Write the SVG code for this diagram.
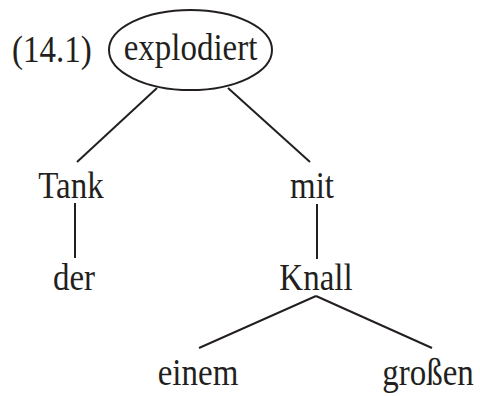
<svg xmlns="http://www.w3.org/2000/svg" width="480" height="396" viewBox="0 0 480 396">
<style>
text{font-family:"Liberation Serif","Times New Roman",serif;font-size:38px;fill:#231f20}
.e line{stroke:#231f20;stroke-width:2}
</style>
<rect width="480" height="396" fill="#fff"/>
<g class="e" id="connectors">
<line x1="157" y1="88" x2="77" y2="162"/>
<line x1="228" y1="88" x2="310" y2="162"/>
<line x1="75" y1="203" x2="75" y2="258"/>
<line x1="317" y1="204" x2="317" y2="259"/>
<line x1="316" y1="296" x2="199" y2="348"/>
<line x1="316" y1="296" x2="432" y2="348"/>
</g>
<g id="label"><text transform="translate(12,62) scale(0.868,1)">(14.1)</text></g>
<g id="explodiert">
<ellipse cx="190.5" cy="50" rx="81.5" ry="40" fill="none" stroke="#231f20" stroke-width="2"/>
<text transform="translate(190.5,60) scale(0.868,1)" text-anchor="middle">explodiert</text>
</g>
<g id="tank"><text transform="translate(71,198) scale(0.868,1)" text-anchor="middle">Tank</text></g>
<g id="der"><text transform="translate(74,290) scale(0.868,1)" text-anchor="middle">der</text></g>
<g id="mit"><text transform="translate(312,198) scale(0.868,1)" text-anchor="middle">mit</text></g>
<g id="knall"><text transform="translate(316,290) scale(0.868,1)" text-anchor="middle">Knall</text></g>
<g id="einem"><text transform="translate(198,385) scale(0.868,1)" text-anchor="middle">einem</text></g>
<g id="grossen"><text transform="translate(428,385) scale(0.868,1)" text-anchor="middle">großen</text></g>
</svg>
